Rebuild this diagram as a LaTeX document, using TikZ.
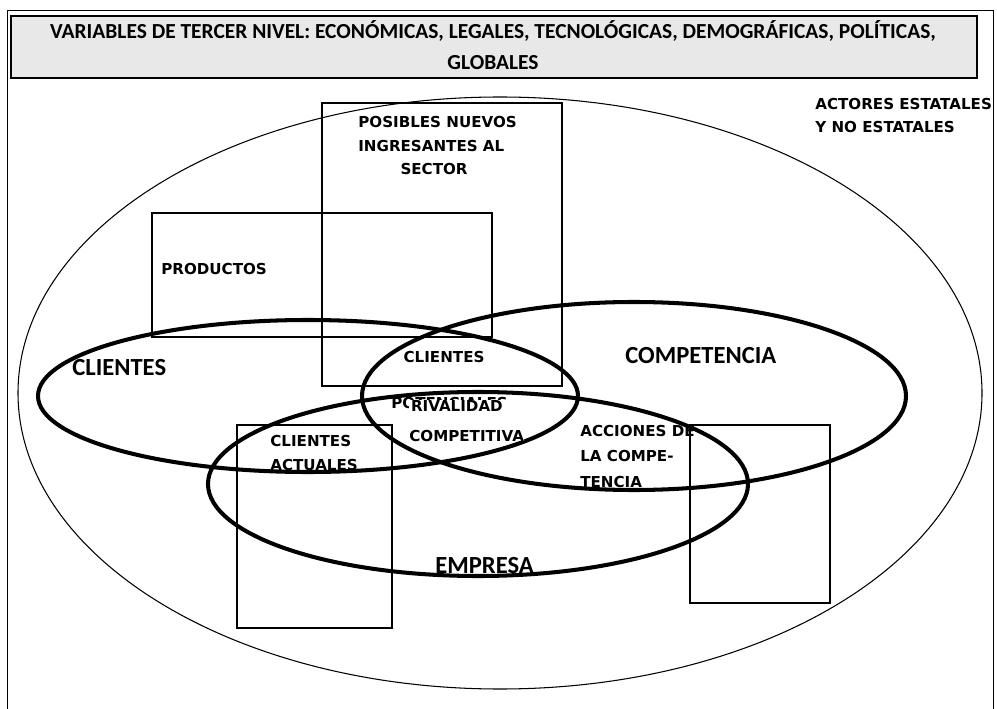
\documentclass[tikz,border=0pt]{standalone}
\usepackage{fontspec}
\setmainfont{Carlito}
\newfontfamily\boxfont{DejaVu Sans}
\tikzset{
  ring/.style={line width=2.3pt},
  thinbox/.style={line width=0.6pt},
  smalllbl/.style={font=\boxfont\bfseries\fontsize{8.6}{13.6}\selectfont, anchor=base west, align=left, inner sep=0pt},
  biglbl/.style={font=\bfseries\fontsize{14}{16}\selectfont, anchor=base west, inner sep=0pt},
}
\begin{document}
\begin{tikzpicture}[x=0.02cm, y=-0.02cm]
  \useasboundingbox (0,0) rectangle (997,709);
  % frame and title
  \draw[line width=0.5pt] (7,709) -- (7,10) -- (993,10) -- (993,709);
  \draw[line width=0.8pt, fill=gray!18] (11,16) rectangle (977,78);
  \node[font=\bfseries\fontsize{12.2}{18}\selectfont, align=center] (title) at (493,45)
    {VARIABLES DE TERCER NIVEL: ECONÓMICAS, LEGALES, TECNOLÓGICAS, DEMOGRÁFICAS, POLÍTICAS,\\GLOBALES};
  % outer ellipse
  \draw[line width=0.6pt] (500,393) ellipse (482 and 296);
  % boxes
  \draw[thinbox] (322,103) rectangle (562,386);
  \draw[thinbox] (152,213) rectangle (492,337);
  \draw[thinbox] (237,425) rectangle (392,628);
  \draw[thinbox] (690,425) rectangle (830,603);
  % thick rings
  \draw[ring] (308,396) ellipse (270 and 76);
  \draw[ring] (634,396) ellipse (272 and 94);
  \draw[ring] (478,484) ellipse (270 and 92);
  % labels (base = last line)
  \node[smalllbl] (actores) at (815,133) {ACTORES ESTATALES\\Y NO ESTATALES};
  \node[smalllbl] (nuevos) at (358,175) {POSIBLES NUEVOS\\INGRESANTES AL\\\hspace*{24pt}SECTOR};
  \node[smalllbl] (productos) at (161,275) {PRODUCTOS};
  \node[biglbl] (clientes) at (72,376) {CLIENTES};
  \node[smalllbl] (potenciales) at (391,408) {\hspace*{7pt}CLIENTES\\[12.5pt]POTENCIALES};
  % rivalidad is written over potenciales
  \node[smalllbl, fill=white] (rivalidad) at (409,441) {\hspace*{1pt}RIVALIDAD\\[3.4pt]COMPETITIVA};
  \node[biglbl] (competencia) at (625,363) {COMPETENCIA};
  \node[smalllbl] (actuales) at (270,470) {CLIENTES\\ACTUALES};
  \node[smalllbl] (acciones) at (580,487) {ACCIONES DE\\[0.9pt]LA COMPE-\\[0.9pt]TENCIA};
  \node[biglbl] (empresa) at (435,573) {EMPRESA};
\end{tikzpicture}
\end{document}
